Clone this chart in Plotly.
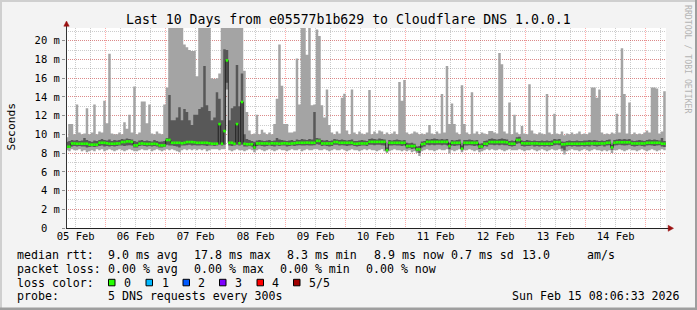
import plotly.graph_objects as go
import pandas as pd

# ---------------- data (hourly bins, ms) ----------------
bin_start = "2026-02-05 08:00"
n_bins = 240
view_start = "2026-02-05 08:06:33"
view_end = "2026-02-15 08:06:33"

median_ms = [
 8.68,8.68,9.03,9.03,9.0,9.0,9.0,9.0,9.0,8.9,8.9,8.9,8.9,9.1,9.1,9.1,9.05,9.0,9.0,9.0,
 9.03,9.03,9.18,9.18,9.25,9.25,9.2,8.82,8.82,9.0,9.03,9.0,8.98,8.98,8.98,9.0,8.95,8.82,8.82,8.82,
 9.4,9.4,9.1,9.1,9.1,9.1,9.05,9.1,9.18,9.18,9.18,9.15,9.1,9.1,9.1,9.1,9.1,9.05,9.0,9.0,
 9.0,11.1,9.0,10.35,17.9,9.1,9.1,9.0,11.1,9.05,13.46,9.0,8.95,8.95,8.95,8.6,9.03,9.03,9.03,9.03,
 9.03,9.0,9.05,9.03,9.03,9.0,9.03,9.05,9.03,9.0,9.03,9.05,9.1,9.1,9.1,9.1,9.12,9.1,9.1,9.1,
 9.3,9.3,9.03,9.03,9.03,9.03,9.03,9.18,9.18,9.1,9.1,9.1,9.1,9.1,9.1,9.0,9.0,9.03,9.03,9.03,
 9.03,9.2,9.2,9.2,9.2,9.2,9.2,9.2,8.32,9.1,9.1,9.1,9.1,9.1,9.1,9.1,8.75,8.75,8.75,8.75,
 8.4,8.4,8.95,9.0,9.2,9.2,9.2,9.2,9.2,9.2,9.2,9.2,9.2,8.75,9.1,9.1,9.1,9.1,8.47,9.1,
 9.1,9.1,9.1,9.1,9.1,8.7,8.7,9.0,9.0,9.18,9.18,9.18,9.18,9.18,9.18,9.18,9.15,9.0,9.0,9.0,
 9.4,9.4,9.05,9.03,9.03,9.03,9.03,9.03,9.03,9.0,9.0,9.0,9.0,9.0,9.0,9.18,9.18,9.18,8.95,8.95,
 9.0,9.0,9.0,9.0,9.0,9.0,9.0,9.0,9.03,9.03,9.03,9.03,9.03,9.03,9.03,9.03,9.1,9.1,8.6,9.1,
 9.15,9.15,9.15,9.15,9.15,9.15,9.03,9.03,9.03,9.03,9.03,9.03,9.1,9.1,9.1,9.1,9.1,9.1,9.0,9.0]

ping_min = [
 8.3,8.2,8.4,8.3,8.3,8.4,8.2,8.3,8.1,8.2,8.3,8.2,8.4,8.3,8.4,8.2,8.3,8.4,8.3,8.2,
 8.3,8.4,8.3,8.2,8.3,8.4,8.3,8.2,8.2,8.3,8.4,8.3,8.3,8.4,8.2,8.3,8.4,8.3,8.2,8.3,
 8.4,8.3,8.4,8.3,8.2,8.1,8.3,8.4,8.3,8.4,8.3,8.4,8.3,8.4,8.3,8.4,8.2,8.3,8.4,8.4,
 8.4,8.3,8.4,8.4,14.8,8.3,8.2,8.3,8.4,8.3,8.3,8.2,8.3,8.4,8.3,8.1,8.3,8.4,8.3,8.2,
 8.3,8.4,8.3,8.2,8.3,8.4,8.3,8.3,8.2,8.3,8.4,8.3,8.3,8.4,8.2,8.3,8.4,8.3,8.3,8.4,
 8.4,8.3,8.3,8.4,8.3,8.2,8.3,8.4,8.3,8.3,8.4,8.3,8.2,8.3,8.4,8.3,8.3,8.2,8.3,8.4,
 8.3,8.4,8.3,8.3,8.2,8.3,8.4,8.2,8.0,8.2,8.3,8.4,8.3,8.3,8.2,8.3,8.2,8.3,8.1,8.2,
 8.0,7.7,8.2,8.3,8.4,8.3,8.3,8.2,8.3,8.4,8.3,8.3,8.4,7.95,8.3,8.2,8.3,8.4,8.1,8.3,
 8.3,8.4,8.3,8.2,8.3,8.1,8.2,8.3,8.4,8.3,8.4,8.3,8.3,8.4,8.3,8.2,8.3,8.4,8.3,8.3,
 8.3,8.4,8.3,8.2,8.3,8.3,8.4,8.3,8.2,8.3,8.4,8.3,8.2,8.3,8.4,8.3,8.3,8.4,8.2,7.85,
 8.2,8.3,8.4,8.3,8.3,8.2,8.3,8.4,8.3,8.2,8.3,8.4,8.3,8.3,8.2,8.3,8.2,8.3,8.0,8.3,
 8.3,8.4,8.3,8.2,8.3,8.4,8.3,8.3,8.2,8.3,8.4,8.3,8.2,8.3,8.4,8.3,8.2,8.3,8.4,8.3]

ping_lo = [
 8.55,8.55,8.7,8.75,8.7,8.75,8.7,8.7,8.6,8.65,8.7,8.65,8.7,8.75,8.8,8.7,8.75,8.7,8.75,8.7,
 8.75,8.8,8.8,8.75,8.8,8.85,8.8,8.6,8.6,8.75,8.8,8.75,8.7,8.75,8.7,8.75,8.7,8.6,8.6,8.65,
 8.9,8.8,8.8,8.75,8.7,8.6,8.8,8.8,8.85,8.9,8.8,8.85,8.8,8.8,8.85,8.8,8.75,8.8,8.8,8.75,
 8.8,8.9,8.8,8.9,15.5,8.8,8.75,8.8,8.9,8.8,8.9,8.7,8.7,8.75,8.7,8.4,8.75,8.8,8.75,8.7,
 8.75,8.8,8.75,8.7,8.8,8.75,8.8,8.8,8.7,8.75,8.8,8.75,8.8,8.85,8.8,8.8,8.85,8.8,8.8,8.85,
 8.95,8.9,8.75,8.8,8.75,8.7,8.75,8.9,8.9,8.8,8.85,8.8,8.75,8.8,8.85,8.75,8.7,8.75,8.8,8.8,
 8.75,8.9,8.9,8.85,8.9,8.9,8.85,8.8,8.2,8.8,8.8,8.85,8.8,8.8,8.75,8.8,8.5,8.55,8.45,8.5,
 8.2,8.0,8.6,8.7,8.9,8.85,8.9,8.85,8.9,8.9,8.85,8.9,8.85,8.4,8.8,8.75,8.8,8.85,8.3,8.8,
 8.8,8.85,8.8,8.75,8.8,8.45,8.5,8.75,8.7,8.9,8.9,8.85,8.9,8.85,8.9,8.85,8.85,8.75,8.7,8.75,
 9.0,9.05,8.75,8.7,8.75,8.75,8.8,8.7,8.75,8.7,8.75,8.7,8.75,8.7,8.75,8.85,8.9,8.85,8.5,8.3,
 8.7,8.75,8.7,8.75,8.7,8.7,8.75,8.7,8.75,8.7,8.8,8.75,8.7,8.75,8.8,8.7,8.8,8.85,8.35,8.8,
 8.85,8.9,8.85,8.8,8.85,8.9,8.75,8.7,8.75,8.8,8.75,8.7,8.8,8.85,8.8,8.75,8.8,8.85,8.7,8.65]

ping_hi = [
 9.2,9.3,9.4,9.35,9.4,9.3,9.35,9.6,9.4,9.3,9.2,9.35,9.3,9.4,9.5,9.4,9.35,9.45,9.3,9.4,
 9.35,9.4,9.5,9.45,9.55,9.5,9.45,9.3,9.2,9.35,9.4,9.3,9.35,9.3,9.25,9.4,9.3,9.2,9.25,9.3,
 9.6,14.2,11.5,11.5,11.8,12.9,11.5,12.7,12.4,11.5,11.0,12.1,12.1,12.7,12.9,17.3,13.1,12.5,11.5,11.8,
 14.5,13.8,11.5,19.1,19.0,11.5,12.8,13.0,17.4,13.0,16.5,10.0,9.5,9.4,9.3,9.2,9.35,9.4,9.35,9.3,
 9.35,9.4,9.3,9.35,9.6,9.45,9.4,9.35,9.3,9.35,9.4,9.3,9.45,9.4,9.5,9.45,9.4,9.5,9.45,12.4,
 9.6,9.55,9.4,9.35,9.4,9.3,9.35,9.5,9.45,9.4,9.45,9.4,9.35,9.4,9.45,9.3,9.3,9.35,9.4,9.35,
 9.3,9.5,9.55,9.5,9.45,9.55,9.5,9.45,8.6,9.4,9.35,9.4,9.45,9.4,9.35,9.4,9.1,9.05,9.1,9.0,
 8.7,8.75,9.25,9.3,9.5,9.45,9.5,9.55,9.5,9.45,9.5,9.45,9.5,9.1,9.4,9.35,9.4,9.45,8.8,9.4,
 9.4,9.45,9.4,9.35,9.4,9.0,9.05,9.3,9.35,9.5,9.55,9.5,9.45,9.5,9.55,9.5,9.45,9.3,9.35,9.3,
 9.7,9.75,9.35,9.3,9.4,9.35,9.3,9.35,9.3,9.3,9.35,9.3,9.35,9.3,9.35,9.5,9.45,9.5,9.25,9.2,
 9.3,9.35,9.3,9.3,9.35,9.3,9.3,9.35,9.35,9.4,9.35,9.4,9.35,9.3,9.35,9.3,9.4,9.45,8.9,9.4,
 9.45,9.5,9.45,9.5,9.45,9.5,9.35,9.3,9.35,9.4,9.35,9.3,9.4,9.45,9.4,9.45,9.4,9.35,9.6,9.3]

ping_max = [
 9.7,11.1,11.1,10.0,13.2,10.2,10.0,10.1,12.8,10.0,10.2,13.2,10.0,10.3,10.2,13.6,11.2,18.6,10.1,10.0,
 10.0,10.2,10.0,11.3,10.6,12.1,10.2,15.1,10.0,10.2,13.5,13.5,11.2,13.2,10.1,10.0,10.3,10.1,10.0,13.2,
 15.0,24,24,24,24,24,24,19.6,19.3,19.0,18.9,18.9,16.2,24,24,24,24,24,16.0,15.9,
 16.0,16.5,24,24,24,24,24,24,24,24,24,16.8,12.4,10.4,10.0,10.1,12.1,10.0,10.5,10.2,
 10.0,10.2,10.0,11.1,13.8,19.6,15.2,11.1,11.1,10.2,10.2,10.3,18.1,13.2,24,24,18.5,24,13.1,13.2,
 21.2,20.5,13.1,11.8,14.8,11.0,10.2,10.0,10.3,10.1,13.9,14.35,10.4,10.0,14.8,10.2,10.0,10.3,10.1,10.0,
 10.2,14.75,10.0,10.3,10.1,10.4,10.3,10.0,10.2,10.0,10.1,10.3,10.0,15.6,13.6,15.8,10.2,10.0,10.1,10.3,
 10.2,10.0,10.1,10.0,10.2,11.0,10.1,10.0,10.3,10.1,14.3,10.2,17.3,11.1,13.3,11.1,10.2,10.0,15.25,11.1,
 10.2,10.0,14.5,10.1,10.3,10.0,10.2,10.1,10.0,10.35,10.35,10.2,10.1,18.7,17.5,10.3,10.1,13.4,10.0,12.1,
 10.2,10.0,10.9,10.1,10.0,15.35,10.4,10.1,10.0,10.2,10.1,10.0,14.3,10.2,10.0,12.2,10.1,10.0,10.3,9.9,
 10.1,10.0,10.2,10.0,10.1,10.3,10.0,10.1,10.0,10.2,15.0,15.0,13.9,14.8,10.2,10.0,10.1,10.0,10.2,10.1,
 12.2,10.2,19.2,14.3,10.1,13.4,10.0,10.2,10.0,10.1,10.0,10.2,10.4,10.2,15.0,15.0,14.9,10.1,10.3,14.6]

y_max = 21.36
y_ticks = [0, 2, 4, 6, 8, 10, 12, 14, 16, 18, 20]
y_ticktext = ["0\u00a0\u00a0", "2 m", "4 m", "6 m", "8 m", "10 m", "12 m", "14 m", "16 m", "18 m", "20 m"]
x_label_days = ["2026-02-%02d 12:00" % d for d in range(5, 15)]
x_label_text = ["%02d Feb" % d for d in range(5, 15)]

title_text = "Last 10 Days from e05577b1b629 to Cloudflare DNS 1.0.0.1"
legend_rows = [
    [(16, "median rtt:"), (107, "9.0 ms avg"), (193, "17.8 ms max"), (286, "8.3 ms min"),
     (373, "8.9 ms now"), (450, "0.7 ms sd"), (521, "13.0"), (586, "am/s")],
    [(16, "packet loss:"), (107, "0.00 % avg"), (193, "0.00 % max"), (279, "0.00 % min"),
     (365, "0.00 % now")],
    [(16, "loss color:"), (123, "0"), (161, "1"), (197, "2"), (234, "3"), (271, "4"), (308, "5/5")],
    [(16, "probe:"), (107, "5 DNS requests every 300s")],
]
legend_y = [255, 268.5, 282.5, 296]
loss_colors = ["#26ff00", "#00b8ff", "#0059ff", "#7e00ff", "#ff0000", "#a10000"]
loss_box_x = [108.5, 146, 183, 219.5, 257, 293.5]
stamp = "Sun Feb 15 08:06:33 2026"

# ---------------- figure ----------------
edges = pd.date_range(bin_start, periods=n_bins + 1, freq="h").strftime("%Y-%m-%d %H:%M:%S").tolist()

def ext(v):
    return list(v) + [v[-1]]

MONO = "DejaVu Sans Mono"
fig = go.Figure()
fig.add_trace(go.Scatter(x=edges, y=ext(ping_min), mode="lines", line=dict(width=0, shape="hv"),
                         hoverinfo="skip", showlegend=False))
fig.add_trace(go.Scatter(x=edges, y=ext(ping_max), mode="lines", line=dict(width=0, shape="hv"),
                         fill="tonexty", fillcolor="#a4a4a4", hoverinfo="skip", showlegend=False))
fig.add_trace(go.Scatter(x=edges, y=ext(ping_lo), mode="lines", line=dict(width=0, shape="hv"),
                         hoverinfo="skip", showlegend=False))
fig.add_trace(go.Scatter(x=edges, y=ext(ping_hi), mode="lines", line=dict(width=0, shape="hv"),
                         fill="tonexty", fillcolor="#585858", hoverinfo="skip", showlegend=False))
fig.add_trace(go.Scatter(x=edges, y=ext(median_ms), mode="lines", line=dict(width=1, shape="hv", color="#202020"),
                         hoverinfo="skip", showlegend=False))
gx, gy = [], []
for i, m in enumerate(median_ms):
    gx += [edges[i], edges[i + 1], None]
    gy += [m, m, None]
fig.add_trace(go.Scatter(x=gx, y=gy, mode="lines", line=dict(width=2.6, color="#26ff00"),
                         hoverinfo="skip", showlegend=False))
fig.add_trace(go.Scatter(x=[view_start, view_end], y=[None, None], xaxis="x2", mode="lines",
                         hoverinfo="skip", showlegend=False))

L, T, W, H = 66, 28, 600, 200
def px(x):
    return (x - L) / W
def py(y):
    return (T + H - y) / H

red_grid = "rgba(255,0,0,0.32)"
grey_grid = "rgba(120,120,120,0.38)"
dots = "1px,1px"

fig.update_layout(
    width=697, height=310,
    margin=dict(l=L, r=697 - L - W, t=T, b=310 - T - H, pad=0),
    paper_bgcolor="#f3f3f3", plot_bgcolor="#ffffff",
    showlegend=False,
    xaxis=dict(type="date", range=[view_start, view_end], tick0="2026-02-05 00:00", dtick=86400000,
               showticklabels=False, ticks="", showgrid=True, gridcolor=red_grid, griddash=dots,
               gridwidth=1, zeroline=False, showline=False,
               minor=dict(tick0="2026-02-05 00:00", dtick=21600000, showgrid=True, gridcolor=grey_grid,
                          griddash=dots, ticks="")),
    xaxis2=dict(type="date", range=[view_start, view_end], overlaying="x", anchor="y", side="bottom",
                tickmode="array", tickvals=x_label_days, ticktext=x_label_text, showgrid=False,
                ticks="", zeroline=False, showline=False,
                tickfont=dict(family=MONO, size=10.5, color="#000000")),
    yaxis=dict(range=[0, y_max], tickmode="array", tickvals=y_ticks, ticktext=y_ticktext,
               showgrid=True, gridcolor=red_grid, griddash=dots, zeroline=False, showline=False,
               ticks="outside", ticklen=3, tickcolor="#909090",
               tickfont=dict(family=MONO, size=10.5, color="#000000"),
               minor=dict(dtick=1, tick0=0, showgrid=True, gridcolor=grey_grid, griddash=dots, ticks="")),
)

shapes = []
# frame of the image
shapes.append(dict(type="rect", xref="paper", yref="paper", x0=px(0), x1=px(697), y0=py(0), y1=py(2),
                   fillcolor="#cfcfcf", line=dict(width=0), layer="above"))
shapes.append(dict(type="rect", xref="paper", yref="paper", x0=px(0), x1=px(2), y0=py(0), y1=py(310),
                   fillcolor="#cfcfcf", line=dict(width=0), layer="above"))
shapes.append(dict(type="rect", xref="paper", yref="paper", x0=px(0), x1=px(697), y0=py(307.5), y1=py(310),
                   fillcolor="#9e9e9e", line=dict(width=0), layer="above"))
shapes.append(dict(type="rect", xref="paper", yref="paper", x0=px(695), x1=px(697), y0=py(0), y1=py(310),
                   fillcolor="#9e9e9e", line=dict(width=0), layer="above"))
# axis lines
shapes.append(dict(type="line", xref="paper", yref="paper", x0=px(66.5), x1=px(66.5), y0=py(228.5), y1=py(25),
                   line=dict(color="#333333", width=1), layer="above"))
shapes.append(dict(type="line", xref="paper", yref="paper", x0=px(66), x1=px(669), y0=py(228.5), y1=py(228.5),
                   line=dict(color="#222222", width=1), layer="above"))
# arrows
def tri(pts, color):
    d = "M " + " L ".join("%f,%f" % (px(a), py(b)) for a, b in pts) + " Z"
    return dict(type="path", xref="paper", yref="paper", path=d, fillcolor=color,
                line=dict(color=color, width=0.5), layer="above")
shapes.append(tri([(63.8, 26.2), (69.2, 26.2), (66.5, 21)], "#9a1010"))
shapes.append(tri([(668.2, 225.3), (668.2, 231.3), (673.5, 228.3)], "#9a1010"))
# loss colour boxes
for c, bx in zip(loss_colors, loss_box_x):
    shapes.append(dict(type="rect", xref="paper", yref="paper", x0=px(bx), x1=px(bx + 6.5),
                       y0=py(279.3), y1=py(285.8), fillcolor=c, line=dict(color="#000000", width=1),
                       layer="above"))
fig.update_layout(shapes=shapes)

ann = []
ann.append(dict(text=title_text, x=px(348), y=py(19.5), xref="paper", yref="paper", showarrow=False,
                xanchor="center", yanchor="middle", font=dict(family=MONO, size=13.2, color="#000000")))
ann.append(dict(text="Seconds", x=px(10.5), y=py(127), xref="paper", yref="paper", showarrow=False,
                textangle=-90, xanchor="center", yanchor="middle",
                font=dict(family=MONO, size=11.3, color="#000000")))
ann.append(dict(text="RRDTOOL / TOBI OETIKER", x=px(688), y=py(59), xref="paper", yref="paper",
                showarrow=False, textangle=90, xanchor="center", yanchor="middle",
                font=dict(family=MONO, size=8.2, color="#b4b4b4")))
for row, yy in zip(legend_rows, legend_y):
    for xx, t in row:
        ann.append(dict(text=t, x=px(xx), y=py(yy), xref="paper", yref="paper", showarrow=False,
                        xanchor="left", yanchor="middle", borderpad=0,
                        font=dict(family=MONO, size=11.6, color="#000000")))
ann.append(dict(text=stamp, x=px(681), y=py(296), xref="paper", yref="paper", showarrow=False,
                xanchor="right", yanchor="middle", borderpad=0,
                font=dict(family=MONO, size=11.6, color="#000000")))
fig.update_layout(annotations=ann)

fig.write_html("out.html")
